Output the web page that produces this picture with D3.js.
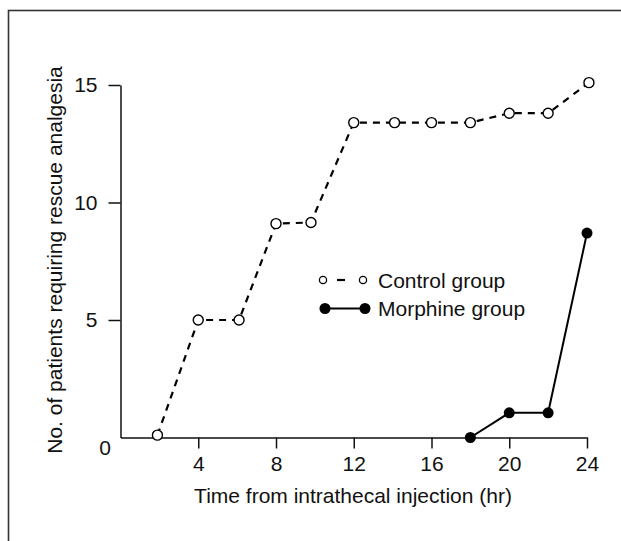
<!DOCTYPE html>
<html>
<head>
<meta charset="utf-8">
<script src="https://cdn.jsdelivr.net/npm/d3@7"></script>
<style>
  body { margin: 0; background: #fff; }
  svg text { font-family: "Liberation Sans", Arial, sans-serif; font-size: 21px; fill: #111; }
</style>
</head>
<body>
<div id="chart"></div>
<script>
// values
var controlHours = [1.9, 4, 6.1, 8, 9.8, 12, 14.1, 16, 18, 20, 22, 24.1];
var controlCount = [0.1, 5, 5, 9.1, 9.15, 13.4, 13.4, 13.4, 13.4, 13.8, 13.8, 15.1];
var morphineHours = [18, 20, 22, 24];
var morphineCount = [0, 1.05, 1.05, 8.7];
var xTicks = [4, 8, 12, 16, 20, 24];
var yTicks = [5, 10, 15];

var width = 621, height = 541;

var svg = d3.select("#chart")
    .append("svg")
    .attr("width", width)
    .attr("height", height);

// frame (only top and left edge show inside the picture)
svg.append("rect")
    .attr("x", 8.5).attr("y", 10.5)
    .attr("width", 700).attr("height", 700)
    .style("fill", "none")
    .style("stroke", "#333")
    .style("stroke-width", 1.6);

var x = d3.scaleLinear().domain([0, 24]).range([120.5, 587]);
var y = d3.scaleLinear().domain([0, 15]).range([437.5, 85]);

var xAxis = svg.append("g")
    .attr("transform", "translate(0," + y(0) + ")")
    .call(d3.axisBottom(x).tickValues(xTicks).tickSize(11).tickSizeOuter(0).tickPadding(8));
var yAxis = svg.append("g")
    .attr("transform", "translate(" + x(0) + ",0)")
    .call(d3.axisLeft(y).tickValues(yTicks).tickSize(12).tickSizeOuter(0).tickPadding(11));

[xAxis, yAxis].forEach(function(g) {
    g.selectAll("path, line").style("stroke", "#111").style("stroke-width", 1.5);
    g.selectAll("text").style("font-size", "21px").style("fill", "#111")
        .attr("font-family", null);
});

// origin label sits below the corner
svg.append("text")
    .attr("x", 105).attr("y", 454.5)
    .style("text-anchor", "middle")
    .text("0");

// axis titles
svg.append("text")
    .attr("transform", "translate(62,260) rotate(-90)")
    .style("text-anchor", "middle")
    .text("No. of patients requiring rescue analgesia");
svg.append("text")
    .attr("x", 353).attr("y", 503)
    .style("text-anchor", "middle")
    .text("Time from intrathecal injection (hr)");

var control = controlHours.map(function(h, i) { return [h, controlCount[i]]; });
var morphine = morphineHours.map(function(h, i) { return [h, morphineCount[i]]; });

var line = d3.line()
    .x(function(d) { return x(d[0]); })
    .y(function(d) { return y(d[1]); });

svg.append("path")
    .attr("d", line(control))
    .style("fill", "none")
    .style("stroke", "#000")
    .style("stroke-width", 2.2)
    .style("stroke-dasharray", "7,6");

svg.append("path")
    .attr("d", line(morphine))
    .style("fill", "none")
    .style("stroke", "#000")
    .style("stroke-width", 2);

svg.append("g")
    .selectAll("circle")
    .data(control)
    .enter()
    .append("circle")
    .attr("cx", function(d) { return x(d[0]); })
    .attr("cy", function(d) { return y(d[1]); })
    .attr("r", 5)
    .style("fill", "#fff")
    .style("stroke", "#000")
    .style("stroke-width", 1.4);

svg.append("g")
    .selectAll("circle")
    .data(morphine)
    .enter()
    .append("circle")
    .attr("cx", function(d) { return x(d[0]); })
    .attr("cy", function(d) { return y(d[1]); })
    .attr("r", 5.5)
    .style("fill", "#000");

// legend
var legend = svg.append("g");
legend.append("line")
    .attr("x1", 337).attr("x2", 345).attr("y1", 280).attr("y2", 280)
    .style("stroke", "#000").style("stroke-width", 2.2);
legend.selectAll("circle.open")
    .data([323, 363])
    .enter()
    .append("circle")
    .attr("cx", function(d) { return d; })
    .attr("cy", 280)
    .attr("r", 3.6)
    .style("fill", "#fff")
    .style("stroke", "#000")
    .style("stroke-width", 1.3);
legend.append("text").attr("x", 378).attr("y", 287.5).text("Control group");

legend.append("line")
    .attr("x1", 325).attr("x2", 365).attr("y1", 308.5).attr("y2", 308.5)
    .style("stroke", "#000").style("stroke-width", 2);
legend.selectAll("circle.fill")
    .data([325, 365])
    .enter()
    .append("circle")
    .attr("cx", function(d) { return d; })
    .attr("cy", 308.5)
    .attr("r", 5.5)
    .style("fill", "#000");
legend.append("text").attr("x", 378).attr("y", 316).text("Morphine group");
</script>
</body>
</html>
